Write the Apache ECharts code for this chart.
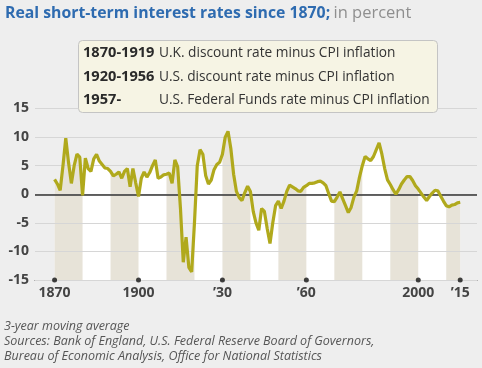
<!DOCTYPE html>
<html><head><meta charset="utf-8">
<script src="https://cdn.jsdelivr.net/npm/echarts@6/dist/echarts.min.js"></script>
<style>html,body{margin:0;padding:0;background:#eeeeee;}#c{width:482px;height:368px;}</style>
</head><body><div id="c"></div>
<script>
const years = [];
for (let y = 1870; y <= 2015; y++) years.push(y);
const rates = [
 2.6,1.8,0.7,5.0,9.8,5.5,1.9,5.0,7.0,6.5,
 -0.2,6.3,4.5,4.0,6.2,7.0,5.8,5.2,4.6,4.5,
 4.0,3.2,3.5,3.9,2.8,4.0,4.5,1.3,4.5,2.0,
 -0.4,2.8,3.9,3.0,3.8,5.0,6.0,2.8,3.0,3.4,
 3.5,3.7,1.9,6.0,4.8,-2.5,-11.9,-7.5,-12.8,-13.6,
 -5.0,5.0,7.8,7.0,3.3,1.8,2.5,4.3,5.2,5.6,
 7.0,10.0,11.0,8.0,3.5,0.5,-0.6,-1.1,0.3,1.4,
 0.5,-3.0,-5.0,-6.3,-2.5,-3.0,-6.0,-8.6,-5.0,-2.0,
 -1.2,-2.5,-1.2,0.5,1.6,1.3,1.0,0.6,0.5,1.2,
 1.5,1.9,1.9,2.0,2.2,2.3,2.0,1.5,0.1,-1.2,
 -1.3,-0.5,0.4,-0.8,-2.0,-3.2,-2.3,-0.5,0.6,3.0,
 5.0,6.6,6.2,5.9,6.6,7.8,9.0,7.0,4.5,2.5,
 1.7,0.8,0.0,0.8,1.8,2.5,3.1,3.1,2.4,1.5,
 0.9,0.2,-0.5,-1.1,-0.4,0.2,0.7,0.6,-0.3,-1.2,
 -2.0,-2.2,-1.9,-1.8,-1.5,-1.4
];
const bandRanges = [[1870,1880],[1890,1900],[1910,1920],[1930,1940],[1950,1960],[1970,1980],[1990,2000],[2010,2015]];
const tickYears = [1870,1900,1930,1960,2000,2015];
const tickLabels = ['1870','1900','\u201930','\u201960','2000','\u201915'];
const legendYears = ['1870-1919','1920-1956','1957-'];
const legendTexts = ['U.K. discount rate minus CPI inflation','U.S. discount rate minus CPI inflation','U.S. Federal Funds rate minus CPI inflation'];
const footnotes = ['3-year moving average','Sources: Bank of England, U.S. Federal Reserve Board of Governors,','Bureau of Economic Analysis, Office for National Statistics'];

const lineData = years.map((y,i)=>[y,rates[i]]);
const inBand = y => bandRanges.some(r => y>=r[0] && y<=r[1]);
const bandData = years.map((y,i)=> inBand(y) ? [y,rates[i]] : [y,'-']);

const chart = echarts.init(document.getElementById('c'));
const graphics = [];
graphics.push({type:'text', left:5, top:5, z:100, style:{
  rich:{a:{fill:'#2e6bb0',fontWeight:'bold',fontSize:15.8,fontFamily:'Open Sans'},b:{fill:'#8f8f8f',fontSize:16.5,fontFamily:'Open Sans'}},
  text:'{a|Real short-term interest rates since 1870;} {b|in percent}'}});
graphics.push({type:'rect', z:100, shape:{x:78.5,y:40.5,width:359,height:72,r:4}, style:{fill:'#f6f4e4',stroke:'#c4c4c4',lineWidth:1}});
const rowY = [53,77,100];
legendYears.forEach((t,i)=>{
  graphics.push({type:'text', z:101, x:83, y:rowY[i], style:{text:t, fill:'#2a2a2a', font:'bold 14.6px "Open Sans"', verticalAlign:'middle'}});
  graphics.push({type:'text', z:101, x:159, y:rowY[i], style:{text:legendTexts[i], fill:'#333', font:'13.7px "Open Sans"', verticalAlign:'middle'}});
});
const fy = [326,341,356];
footnotes.forEach((t,i)=>{
  graphics.push({type:'text', z:100, x:4, y:fy[i], style:{text:t, fill:'#555', font:'italic 12.5px "Open Sans"', verticalAlign:'middle'}});
});

chart.setOption({
  backgroundColor:'#eeeeee',
  animation:false,
  grid:{left:35, right:5, top:108.5, bottom:88},
  xAxis:{type:'value', min:1863, max:2021,
    axisLine:{show:true, onZero:false, lineStyle:{color:'#555',width:1}},
    axisTick:{show:false}, splitLine:{show:false},
    axisLabel:{customValues:tickYears, margin:6, color:'#444', fontWeight:'bold', fontSize:14, fontFamily:'Open Sans',
      formatter:v=>tickLabels[tickYears.indexOf(v)]}},
  yAxis:{type:'value', min:-15, max:15, interval:5, z:3,
    axisLine:{show:false}, axisTick:{show:false},
    splitLine:{lineStyle:{color:'#d6d6d6',width:1}},
    axisLabel:{margin:6, color:'#444', fontWeight:'bold', fontSize:14, fontFamily:'Open Sans'}},
  series:[
    {type:'line', data:lineData, symbol:'none', z:1, lineStyle:{width:0}, areaStyle:{color:'#ffffff', opacity:1, origin:'start'}, silent:true},
    {type:'line', data:bandData, symbol:'none', z:2, connectNulls:false, lineStyle:{width:0}, areaStyle:{color:'#e7e3d8', opacity:1, origin:'start'}, silent:true},
    {type:'line', data:lineData, symbol:'none', z:5, lineStyle:{color:'#b0a91c', width:3.2}, silent:true,
      markLine:{silent:true, symbol:'none', label:{show:false}, lineStyle:{color:'#333',width:1.6,type:'solid'}, data:[{yAxis:0}]}},
    {type:'scatter', data:tickYears.map(y=>[y,-15]), symbol:'circle', symbolSize:5, clip:false, z:6, itemStyle:{color:'#111'}, silent:true}
  ],
  graphic:graphics
});
</script></body></html>
